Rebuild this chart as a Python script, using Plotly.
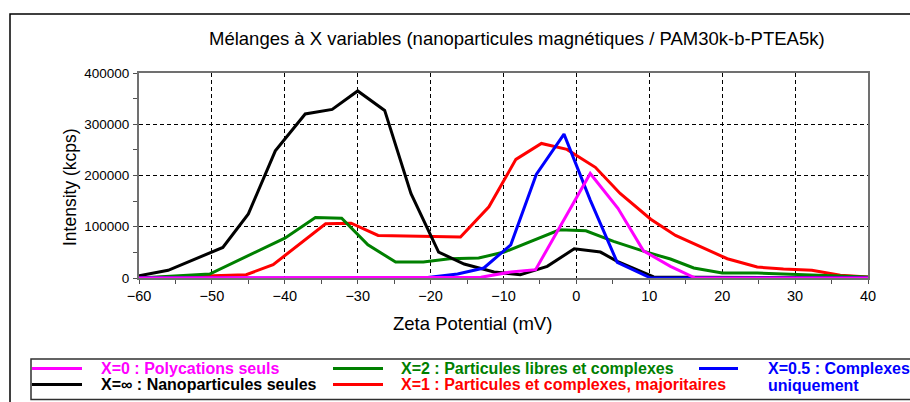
import plotly.graph_objects as go

# Zeta potential distributions for the mixtures (mV vs kcps)
x_poly = [-60, -13.1, -9, -5.6, 1.9, 5.7, 9.2, 12.9, 16.3, 40]
y_poly = [0, 1300, 11700, 16200, 204000, 136000, 53000, 22700, 0, 0]

x_nano = [-60, -56, -48.5, -45, -41.3, -37.2, -33.5, -30, -26.3, -22.7, -18.9,
          -15.4, -11.3, -7.7, -4, -0.3, 3.3, 5.6, 10.6, 16.1, 40]
y_nano = [4500, 15000, 59600, 125000, 248000, 320000, 329000, 365000, 327000,
          165000, 50600, 27200, 11700, 6500, 22700, 57000, 50600, 32400, 2000, 1300, 0]

x_libres = [-60, -50.3, -40, -35.8, -32.2, -28.6, -24.8, -21, -17.4, -13.4, -9.9,
            -4.9, -2.3, 1.3, 5.1, 9.3, 12.9, 16.1, 20, 24.8, 40]
y_libres = [0, 7800, 77800, 118000, 116700, 64800, 31100, 31100, 37600, 38900, 50600,
            79800, 94000, 92000, 71300, 51900, 37000, 19500, 9700, 9700, 2000]

x_major = [-60, -45.3, -41.6, -34.4, -30.9, -27.2, -15.9, -12, -8.3, -4.8, -1.3,
           2.6, 6, 10.2, 13.6, 20.7, 24.8, 28.4, 32.3, 36.2, 40]
y_major = [0, 6500, 26000, 105700, 107000, 83000, 79800, 139000, 231500, 262600, 251000,
           216000, 165000, 114800, 83000, 37600, 21400, 17500, 15000, 5200, 2000]

x_compl = [-60, -21, -16.3, -12.7, -9, -5.5, -1.7, 1.9, 5.6, 10.2, 40]
y_compl = [0, 0, 7800, 19500, 64800, 202000, 280800, 152000, 30500, 0, 0]

names = {
    "poly": "X=0 : Polycations seuls",
    "nano": "X=\u221e : Nanoparticules seules",
    "libres": "X=2 : Particules libres et complexes",
    "major": "X=1 : Particules et complexes, majoritaires",
    "compl": "X=0.5 : Complexes<br>uniquement",
}
colors = {"poly": "#FF00FF", "nano": "#000000", "libres": "#008000",
          "major": "#FF0000", "compl": "#0000FF"}

title_text = "Mélanges à X variables (nanoparticules magnétiques / PAM30k-b-PTEA5k)"
x_title = "Zeta Potential (mV)"
y_title = "Intensity (kcps)"

FONT = "Arial, Liberation Sans, sans-serif"
W, H = 910, 402
L, R, T, B = 139, 42, 73, 124
PW, PH = W - L - R, H - T - B


def px(xp):
    return (xp - L) / PW


def py(yp):
    return (H - B - yp) / PH


fig = go.Figure()
series = [("major", x_major, y_major), ("libres", x_libres, y_libres),
          ("nano", x_nano, y_nano), ("compl", x_compl, y_compl),
          ("poly", x_poly, y_poly)]
for key, xs, ys in series:
    fig.add_trace(go.Scatter(x=xs, y=ys, mode="lines", name=names[key],
                             line=dict(color=colors[key], width=3),
                             showlegend=False))

axis_common = dict(showline=True, linecolor="#707070", linewidth=2, mirror=True,
                   showgrid=True, gridcolor="#000000", gridwidth=1, griddash="4px,3px",
                   zeroline=False, ticks="outside", ticklen=4, tickcolor="#505050")

fig.update_xaxes(range=[-60, 40], tickmode="linear", tick0=-60, dtick=10,
                 tickfont=dict(family=FONT, size=14.5, color="#000000"),
                 minor=dict(dtick=5, ticks="outside", ticklen=4, tickcolor="#505050",
                            showgrid=False),
                 **axis_common)
fig.update_yaxes(range=[0, 400000], tickmode="linear", tick0=0, dtick=100000,
                 tickformat="d", ticklabelstandoff=1,
                 tickfont=dict(family=FONT, size=13.5, color="#000000"),
                 minor=dict(dtick=50000, ticks="outside", ticklen=4, tickcolor="#505050",
                            showgrid=False),
                 **axis_common)

annotations = [
    dict(text=title_text, x=px(517), y=py(38), xref="paper", yref="paper",
         showarrow=False, xanchor="center", yanchor="middle",
         font=dict(family=FONT, size=18.5, color="#000000")),
    dict(text=x_title, x=px(472), y=py(323), xref="paper", yref="paper",
         showarrow=False, xanchor="center", yanchor="middle",
         font=dict(family=FONT, size=18.5, color="#000000")),
    dict(text=y_title, x=px(70), y=py(187), xref="paper", yref="paper",
         showarrow=False, xanchor="center", yanchor="middle", textangle=-90,
         font=dict(family=FONT, size=17.5, color="#000000")),
]

shapes = [
    # outer frame (left and top edges)
    dict(type="path", xref="paper", yref="paper",
         path=f"M {px(10)} {py(420)} L {px(10)} {py(14)} L {px(930)} {py(14)}",
         line=dict(color="#000000", width=1.5)),
    # legend box
    dict(type="rect", xref="paper", yref="paper",
         x0=px(31), x1=px(930), y0=py(359), y1=py(399.5),
         line=dict(color="#303030", width=1.5)),
]

# legend entries: (key, line x0, line x1, text x, y of first text line)
legend_items = [
    ("poly", 32, 82, 99, 368.5),
    ("nano", 32, 82, 99, 384.5),
    ("libres", 333, 383, 399, 368.5),
    ("major", 333, 383, 399, 384.5),
    ("compl", 699, 738, 766, 368.5),
]
for key, lx0, lx1, tx, ty in legend_items:
    shapes.append(dict(type="line", xref="paper", yref="paper",
                       x0=px(lx0), x1=px(lx1), y0=py(ty), y1=py(ty),
                       line=dict(color=colors[key], width=3)))
    for i, part in enumerate(names[key].split("<br>")):
        annotations.append(dict(text=f"<b>{part}</b>", x=px(tx), y=py(ty + 16.5 * i),
                                xref="paper", yref="paper", showarrow=False,
                                xanchor="left", yanchor="middle", align="left",
                                font=dict(family=FONT, size=16, color=colors[key])))

fig.update_layout(width=W, height=H, margin=dict(l=L, r=R, t=T, b=B),
                  paper_bgcolor="#FFFFFF", plot_bgcolor="#FFFFFF",
                  annotations=annotations, shapes=shapes, showlegend=False)

fig.write_html("out.html")
